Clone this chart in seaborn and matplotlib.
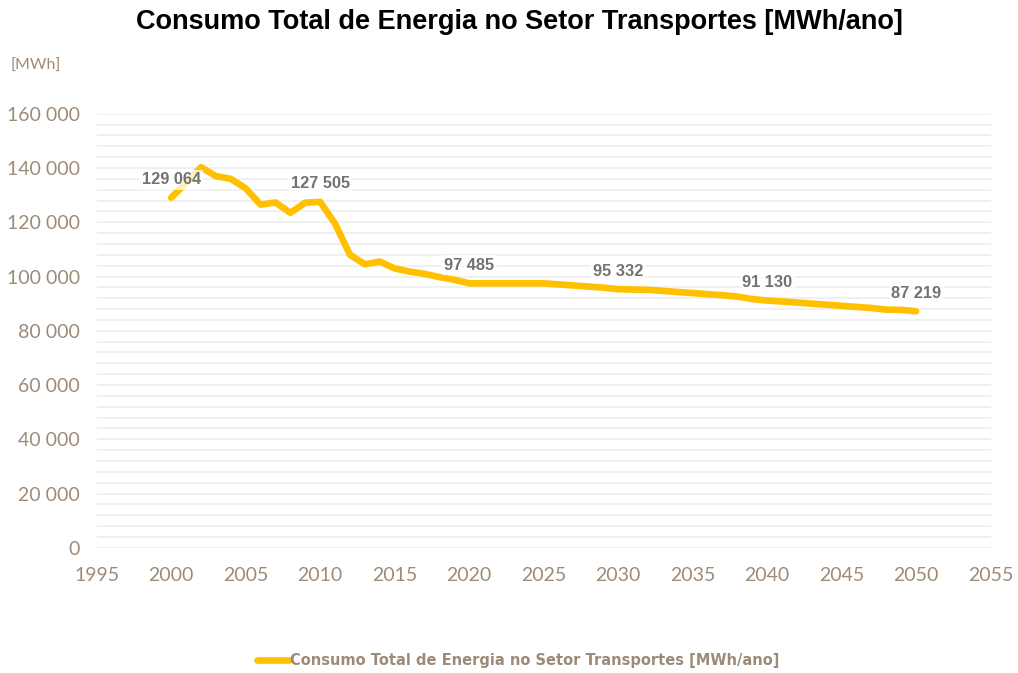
import matplotlib.pyplot as plt
import numpy as np
import pandas as pd
import seaborn as sns
from matplotlib.ticker import FuncFormatter, MultipleLocator

sns.set_theme(style="white")
plt.rcParams["font.family"] = ["Lato", "DejaVu Sans"]

# data
years = list(range(2000, 2051))
consumo = [
    129064, 134500, 140300, 137000, 136000, 132500, 126500, 127300, 123500, 127200,
    127505, 119500, 108000, 104500, 105500, 103000, 101800, 101000, 99800, 98800,
    97485, 97485, 97485, 97485, 97485, 97485, 97100, 96700, 96300, 95900,
    95332, 95200, 95100, 94700, 94300, 93900, 93500, 93100, 92600, 91700,
    91130, 90800, 90400, 90000, 89600, 89200, 88800, 88400, 87800, 87700,
    87219,
]
label_years = [2000, 2010, 2020, 2030, 2040, 2050]

series_name = "Consumo Total de Energia no Setor Transportes [MWh/ano]"
df = pd.DataFrame({"Ano": years, "Consumo": consumo})

TAN = "#9d8b78"
YELLOW = "#FFC000"

fig = plt.figure(figsize=(10.18, 6.73), dpi=100)
ax = fig.add_axes([0.095, 0.186, 0.878, 0.645])

sns.lineplot(data=df, x="Ano", y="Consumo", color=YELLOW, lw=4.8,
             solid_capstyle="round", ax=ax, label=series_name, zorder=3)

ax.set_xlim(1995, 2055)
ax.set_ylim(0, 160000)
ax.xaxis.set_major_locator(MultipleLocator(5))
ax.yaxis.set_major_locator(MultipleLocator(20000))
ax.yaxis.set_minor_locator(MultipleLocator(4000))
ax.yaxis.set_major_formatter(FuncFormatter(lambda v, _: f"{int(v):,}".replace(",", " ")))
ax.grid(which="both", axis="y", color="#efefef", lw=1.3, zorder=0)
ax.tick_params(axis="both", length=0, labelsize=14, labelcolor=TAN)
ax.tick_params(axis="x", pad=14)
ax.tick_params(axis="y", pad=12)
for s in ax.spines.values():
    s.set_visible(False)
ax.set_xlabel("")
ax.set_ylabel("")

for yr in label_years:
    v = consumo[years.index(yr)]
    ax.annotate(f"{v:,}".replace(",", " "), (yr, v), xytext=(0, 13),
                textcoords="offset points", ha="center", va="center",
                fontsize=11.8, fontweight="bold", color="#767171",
                family=["Liberation Sans", "DejaVu Sans"], zorder=4,
                bbox=dict(boxstyle="square,pad=0.15", fc="white", ec="none", alpha=0.75))

fig.text(0.51, 0.968, series_name, ha="center", va="center", fontsize=19.5,
         fontweight="bold", family=["Liberation Sans", "DejaVu Sans"], color="black")
fig.text(0.01, 0.902, "[MWh]", ha="left", va="center", fontsize=11.5, color=TAN)

leg = ax.legend(loc="center", bbox_to_anchor=(0.509, 0.018), bbox_transform=fig.transFigure,
                frameon=False, handlelength=2.2, handletextpad=0.05,
                prop={"family": ["DejaVu Sans"], "size": 10.5, "weight": "bold"})
for t in leg.get_texts():
    t.set_color(TAN)

fig.savefig("out.png", dpi=100)
